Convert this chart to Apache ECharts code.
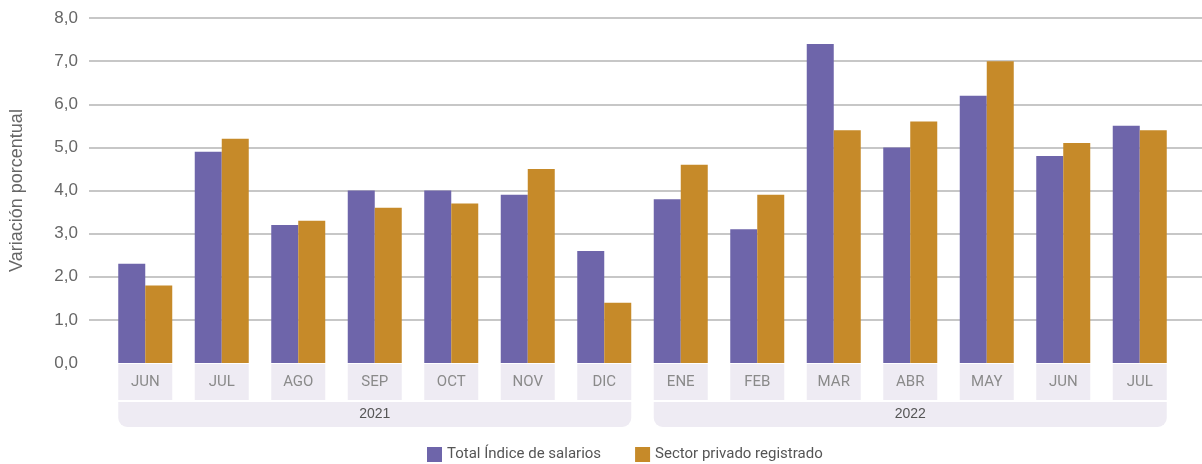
<!DOCTYPE html>
<html>
<head>
<meta charset="utf-8">
<script src="https://cdn.jsdelivr.net/npm/echarts@6/dist/echarts.min.js"></script>
<style>
  html, body { margin: 0; padding: 0; background: #fff; }
  #main { width: 1202px; height: 464px; }
</style>
</head>
<body>
<div id="main"></div>
<script>
// data
const months = ["JUN", "JUL", "AGO", "SEP", "OCT", "NOV", "DIC", "ENE", "FEB", "MAR", "ABR", "MAY", "JUN", "JUL"]
const years = ["2021", "2022"]
const totalIndice = [2.3, 4.9, 3.2, 4.0, 4.0, 3.9, 2.6, 3.8, 3.1, 7.4, 5.0, 6.2, 4.8, 5.5]
const sectorPrivado = [1.8, 5.2, 3.3, 3.6, 3.7, 4.5, 1.4, 4.6, 3.9, 5.4, 5.6, 7.0, 5.1, 5.4]

const boxColor = "#eeebf3"
const narrow = "'Liberation Sans Narrow', 'Roboto', sans-serif"

const chartContainer = document.getElementById("main")
const myChart = echarts.init(chartContainer)

const options = {
  animation: false,
  textStyle: { fontFamily: "'Liberation Sans', Arial, sans-serif" },
  grid: [
    // grid lines + value labels
    { left: 80, right: 0, top: 18, bottom: 101 },
    // bars
    { left: 107, right: 24, top: 18, bottom: 101 }
  ],
  legend: {
    top: 442,
    left: 422,
    itemWidth: 15,
    itemHeight: 15,
    itemGap: 34,
    icon: "rect",
    textStyle: { fontFamily: narrow, fontSize: 15, color: "#555" },
    data: ["Total Índice de salarios", "Sector privado registrado"]
  },
  xAxis: [
    { gridIndex: 0, type: "value", show: false, min: 0, max: 1 },
    {
      gridIndex: 1,
      type: "category",
      data: months,
      axisLine: { show: false },
      axisTick: { show: false },
      axisLabel: {
        interval: 0,
        margin: 1,
        width: 54,
        height: 36,
        lineHeight: 36,
        align: "center",
        backgroundColor: boxColor,
        color: "#8a8a8a",
        fontFamily: narrow,
        fontSize: 15
      }
    },
    {
      gridIndex: 1,
      type: "category",
      data: years,
      position: "bottom",
      axisLine: { show: false },
      axisTick: { show: false },
      axisLabel: {
        interval: 0,
        margin: 39,
        width: 513,
        height: 25,
        lineHeight: 25,
        align: "center",
        backgroundColor: boxColor,
        borderRadius: [0, 0, 9, 9],
        color: "#555",
        fontSize: 14
      }
    }
  ],
  yAxis: [
    {
      gridIndex: 0,
      type: "value",
      min: 0,
      max: 8,
      interval: 1,
      name: "Variación porcentual",
      nameLocation: "middle",
      nameGap: 63,
      nameTextStyle: { fontSize: 18, color: "#666" },
      axisLine: { show: false },
      axisTick: { show: false },
      axisLabel: {
        margin: 11,
        fontSize: 17,
        color: "#666",
        formatter: v => v.toFixed(1).replace(".", ",")
      },
      splitLine: { showMinLine: false, lineStyle: { color: "#b4b4b4", width: 1.5 } }
    },
    { gridIndex: 1, type: "value", min: 0, max: 8, interval: 1, show: false, splitLine: { show: false } }
  ],
  series: [
    {
      name: "Total Índice de salarios",
      type: "bar",
      xAxisIndex: 1,
      yAxisIndex: 1,
      data: totalIndice,
      barWidth: 27,
      barGap: "0%",
      itemStyle: { color: "#6e65aa" }
    },
    {
      name: "Sector privado registrado",
      type: "bar",
      xAxisIndex: 1,
      yAxisIndex: 1,
      data: sectorPrivado,
      barWidth: 27,
      barGap: "0%",
      itemStyle: { color: "#c68a29" }
    }
  ]
}

myChart.setOption(options)
window.onresize = () => myChart.resize()
</script>
</body>
</html>
